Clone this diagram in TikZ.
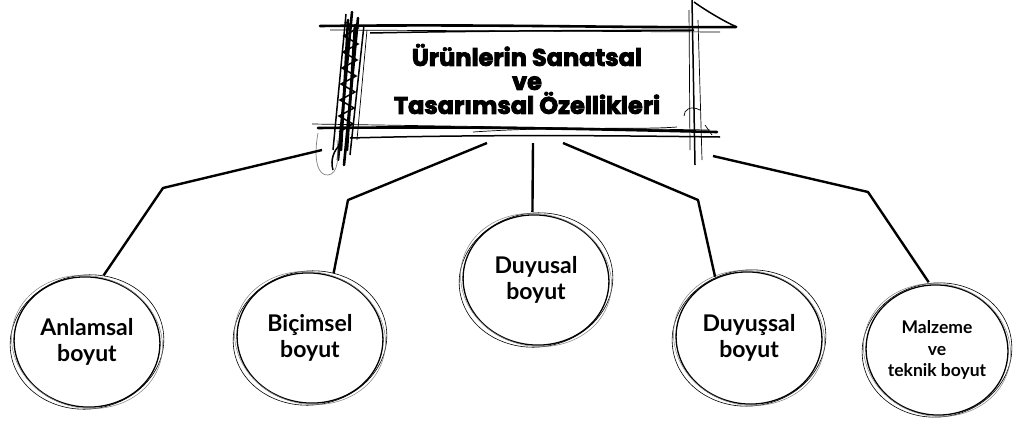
\documentclass[tikz,border=0pt]{standalone}
\usepackage{fontspec}
\usetikzlibrary{shapes.geometric}
\newfontfamily\titlefont[FakeBold=3.5]{Poppins}
\newfontfamily\bubfont{Lato}
\begin{document}
\begin{tikzpicture}[x=1pt,y=-1pt,
  bub/.style={ellipse,minimum width=154pt,minimum height=136pt,inner sep=0pt,
    align=center,font=\bubfont\bfseries\fontsize{23}{26}\selectfont},
  conn/.style={line width=2.4pt,line join=round},
  sk/.style={line width=0.7pt},
  skk/.style={line width=1.5pt},
  heavy/.style={line width=2.6pt,line cap=round}]
\useasboundingbox (0,0) rectangle (1014,421);
% title box
\node[align=center,font=\titlefont\bfseries\fontsize{24}{24}\selectfont,inner sep=0pt] (title) at (527,79)
  {Ürünlerin Sanatsal\\ve\\Tasarımsal Özellikleri};
% sketchy frame
\draw[heavy] (320,26) .. controls (500,24) and (620,28) .. (736,27);
\draw[skk] (370,33) .. controls (520,30) and (620,31) .. (694,30);
\draw[sk] (330,30) -- (720,32);
\draw[heavy] (318,128) .. controls (500,126) and (620,130) .. (717,132);
\draw[skk] (350,138) .. controls (500,134) and (640,136) .. (720,137);
\draw[sk] (473,132) .. controls (560,126) and (640,130) .. (677,127);
\draw[sk] (312,124) -- (710,130);
% left heavy scribble
\draw[heavy] (352,12) -- (338,160);
\draw[heavy] (358,18) -- (344,165);
\draw[heavy] (348,20) -- (341,150);
\draw[heavy] (355,25) -- (347,150);
\draw[skk] (364,25) -- (350,155);
\draw[skk] (346,14) -- (333,150);
\draw[sk] (367,30) -- (357,140);
\draw[skk] (345,22) -- (358,28) -- (344,36) -- (358,44) -- (343,52) -- (357,60) -- (342,68) -- (356,76) -- (341,84) -- (355,92) -- (340,100) -- (354,108) -- (339,116) -- (353,124) -- (339,132);
% bulb
\draw[sk,gray] (318,133) .. controls (313,160) and (318,176) .. (328,175)
  .. controls (338,174) and (339,158) .. (337,140);
\draw[skk] (333,170) .. controls (330,160) and (334,150) .. (340,145);
% right side
\draw[skk] (692,0) -- (695,165);
\draw[sk] (698,20) -- (702,160);
\draw[sk] (689,10) -- (690,150);
\draw[skk] (694,2) .. controls (705,10) and (725,22) .. (737,27);
\draw[sk] (700,110) .. controls (690,105) and (684,110) .. (684,116);
\draw[sk] (705,125) -- (712,135);
% circles
\node[bub] (c1) at (87,342) {Anlamsal\\boyut};
\node[bub] (c2) at (310,338) {Biçimsel\\boyut};
\node[bub] (c3) at (536,280) {Duyusal\\boyut};
\node[bub] (c4) at (749,338) {Duyuşsal\\boyut};
\node[bub,font=\bubfont\bfseries\fontsize{17.5}{21.5}\selectfont] (c5) at (937,350) {Malzeme\\ve\\teknik boyut};
\foreach \c/\rx/\ry in {c1/77/68,c2/77/68,c3/77/68,c4/77/69,c5/75/68}{
  \draw[line width=1.3pt,rotate around={-6:(\c)}] (\c) ellipse [x radius=\rx pt-4pt, y radius=\ry pt-3pt];
  \draw[line width=0.6pt,rotate around={8:(\c)}] (\c) ellipse [x radius=\rx pt, y radius=\ry pt-1pt];
  \draw[line width=0.5pt,gray,rotate around={-14:(\c)}] (\c) ellipse [x radius=\rx pt-1pt, y radius=\ry pt-2pt];
}
% connectors
\coordinate (s1) at (322,150);
\coordinate (b1) at (163,188);
\coordinate (s2) at (487,143);
\coordinate (b2) at (348,200);
\coordinate (s3) at (533,143);
\coordinate (s4) at (563,143);
\coordinate (b4) at (698,200);
\coordinate (s5) at (713,156);
\coordinate (b5) at (868,192);
\draw[conn] (s1) -- (b1) -- (c1.76);
\draw[conn] (s2) -- (b2) -- (c2.70);
\draw[conn] (s3) -- (c3.93);
\draw[conn] (s4) -- (b4) -- (c4.119);
\draw[conn] (s5) -- (b5) -- (c5.97);
\end{tikzpicture}
\end{document}
